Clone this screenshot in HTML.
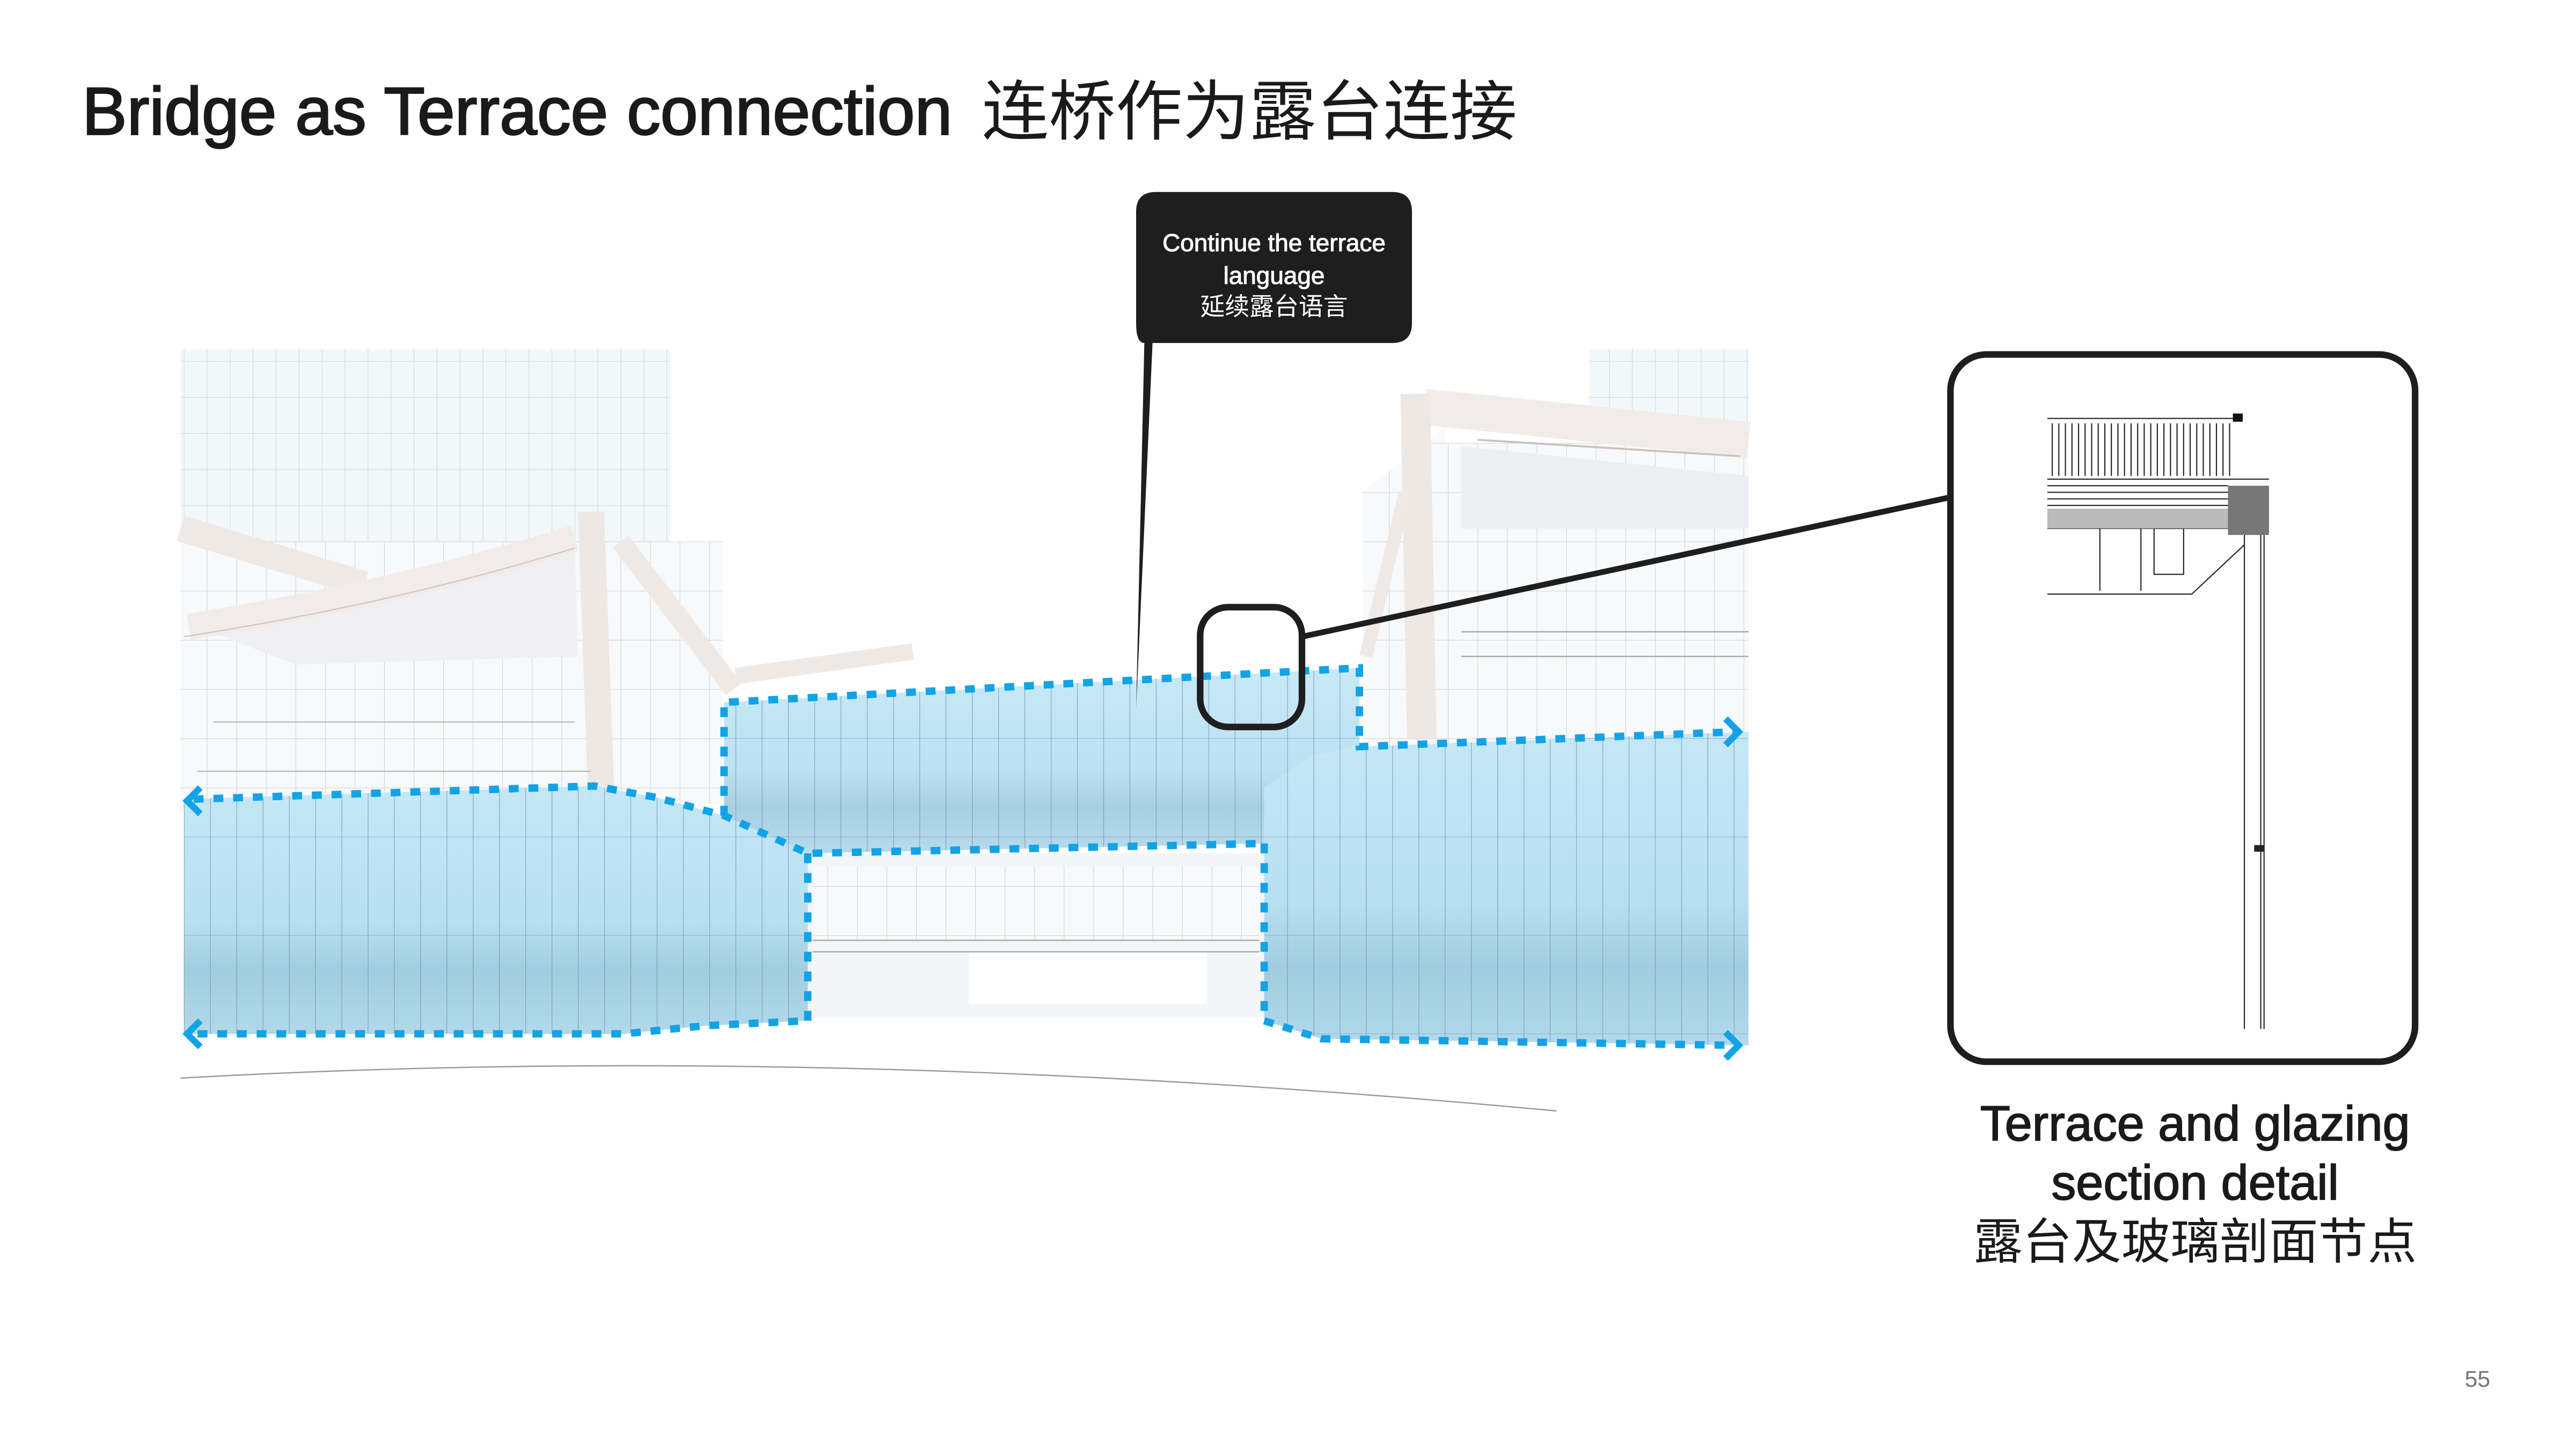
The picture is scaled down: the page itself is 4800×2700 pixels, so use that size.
<!DOCTYPE html>
<html><head><meta charset="utf-8"><style>
html,body{margin:0;padding:0;background:#fff;}
svg{display:block;}
</style></head><body>
<svg width="4800" height="2700" viewBox="0 0 1569 883" preserveAspectRatio="none" xmlns="http://www.w3.org/2000/svg">
<defs>
<pattern id="grid" width="14" height="22" patternUnits="userSpaceOnUse">
<rect width="14" height="22" fill="#f2f8f9"/>
<path d="M0 0V22M0 0H14" stroke="#c2d3d6" stroke-width="0.6"/>
</pattern>
<pattern id="grid2" width="18" height="30" patternUnits="userSpaceOnUse">
<rect width="18" height="30" fill="#f8f9fa"/>
<path d="M0 0V30M0 0H18" stroke="#c8cccf" stroke-width="0.6"/>
</pattern>
<pattern id="mull" width="16" height="60" patternUnits="userSpaceOnUse">
<path d="M0 0V60" stroke="#6b8fa3" stroke-width="0.8" opacity="0.7"/>
<path d="M0 30H16" stroke="#7fa3b6" stroke-width="0.4" opacity="0.6"/>
</pattern>
<linearGradient id="blue" x1="0" y1="0" x2="0" y2="1">
<stop offset="0" stop-color="#bfe5f5"/><stop offset="0.55" stop-color="#b0dcef"/><stop offset="0.75" stop-color="#98c6dd"/><stop offset="1" stop-color="#a9d5ea"/>
</linearGradient>
</defs>

<!-- Title -->
<text x="50" y="82" font-family="Liberation Sans, sans-serif" font-size="41" fill="#1a1a1a" textLength="530" lengthAdjust="spacingAndGlyphs" stroke="#1a1a1a" stroke-width="0.9">Bridge as Terrace connection</text>
<text x="598" y="82" font-family="'Liberation Sans','Noto Sans CJK SC',sans-serif" font-size="40" fill="#1a1a1a" textLength="326" lengthAdjust="spacingAndGlyphs">连桥作为露台连接</text>

<!-- Towers -->
<rect x="110" y="213" width="298" height="280" fill="url(#grid)"/>
<rect x="968" y="213" width="97" height="50" fill="url(#grid)"/>
<!-- Upper floors -->
<rect x="110" y="330" width="330" height="160" fill="url(#grid2)"/>
<rect x="880" y="270" width="185" height="185" fill="url(#grid2)"/>
<polygon points="830,300 880,260 880,455 830,455" fill="url(#grid2)"/>
<!-- Canopies left -->
<polygon points="115,380 350,328 352,400 180,405" fill="#f0f0f2"/>
<path d="M110 322 L222 356" stroke="#efe9e6" stroke-width="16" fill="none"/>
<path d="M115 382 Q240 362 350 328" stroke="#f1ecea" stroke-width="16" fill="none"/>
<path d="M112 388 Q240 368 350 334" stroke="#cfc9c7" stroke-width="0.8" fill="none"/>
<path d="M360 312 L366 480" stroke="#eee8e5" stroke-width="16" fill="none"/>
<path d="M378 330 L447 420" stroke="#efe9e6" stroke-width="12" fill="none"/>
<path d="M448 412 L556 397" stroke="#efe9e6" stroke-width="10" fill="none"/>
<path d="M130 440 H350 M120 470 H360" stroke="#bbb" stroke-width="0.8"/>
<!-- Canopies right -->
<polygon points="890,272 1065,290 1065,322 890,322" fill="#eceef1"/>
<path d="M868 248 L1065 268" stroke="#f1ecea" stroke-width="22" fill="none"/>
<path d="M862 240 L866 450" stroke="#eee8e5" stroke-width="18" fill="none"/>
<path d="M832 400 L856 300" stroke="#efe9e6" stroke-width="8" fill="none"/>
<path d="M900 268 L1060 278" stroke="#c8c2c0" stroke-width="1.2"/>
<path d="M890 385 H1065 M890 400 H1065" stroke="#aaa" stroke-width="0.8"/>

<!-- Underpass -->
<rect x="492" y="520" width="278" height="100" fill="#f4f5f6"/>
<rect x="495" y="528" width="272" height="45" fill="url(#grid2)"/>
<rect x="590" y="580" width="145" height="32" fill="#fff"/>
<path d="M495 573 H767 M495 580 H767" stroke="#aaa" stroke-width="0.8"/>

<!-- Blue glass -->
<g>
<polygon points="112,487 362,479 400,486 441,497 492,520 492,622 430,625 380,630 112,630" fill="url(#blue)" opacity="0.9"/>
<polygon points="112,487 362,479 400,486 441,497 492,520 492,622 430,625 380,630 112,630" fill="url(#mull)"/>
<polygon points="441,428 828,407 828,455 800,460 770,480 770,514 492,520 441,497" fill="url(#blue)" opacity="0.85"/>
<polygon points="441,428 828,407 828,455 800,460 770,480 770,514 492,520 441,497" fill="url(#mull)"/>
<polygon points="828,455 1065,446 1065,637 805,633 770,622 770,480 800,460" fill="url(#blue)" opacity="0.9"/>
<polygon points="828,455 1065,446 1065,637 805,633 770,622 770,480 800,460" fill="url(#mull)"/>
</g>
<!-- ground line -->
<path d="M110 657 Q500 635 948 677" stroke="#999" stroke-width="0.8" fill="none"/>

<!-- Dotted outlines -->
<g stroke="#12a3e6" stroke-width="4.5" fill="none" stroke-dasharray="6 6">
<path d="M118 487 L362 479 L400 486 L441 497 L492 520 L770 514"/>
<path d="M441 497 L441 428 L828 407 L828 455 L1056 446"/>
<path d="M492 520 L492 622 L430 625 L380 630 L118 630"/>
<path d="M770 514 L770 622 L805 633 L1056 637"/>
</g>
<g stroke="#12a3e6" stroke-width="4" fill="none">
<path d="M122 480 L114 488 L122 496"/>
<path d="M122 622 L114 630 L122 638"/>
<path d="M1051 438 L1059 446 L1051 454"/>
<path d="M1051 629 L1059 637 L1051 645"/>
</g>

<!-- Callout -->
<path d="M704 117 H848 Q860 117 860 129 V197 Q860 209 848 209 H702 L692 432 L697 209 Q692 209 692 197 V129 Q692 117 704 117 Z" fill="#1e1e1e"/>
<g font-family="'Liberation Sans','Noto Sans CJK SC',sans-serif" font-size="15" fill="#fff" text-anchor="middle">
<text x="776" y="153" stroke="#fff" stroke-width="0.35">Continue the terrace</text>
<text x="776" y="173" stroke="#fff" stroke-width="0.35">language</text>
<text x="776" y="192">延续露台语言</text>
</g>

<!-- Small highlight box and leader -->
<rect x="731" y="370" width="62" height="73" rx="17" fill="none" stroke="#1e1e1e" stroke-width="4"/>
<path d="M793 388 L1188 303" stroke="#1e1e1e" stroke-width="3.5"/>

<!-- Detail box -->
<rect x="1188" y="216" width="283" height="431" rx="22" fill="#fff" stroke="#1e1e1e" stroke-width="4"/>
<g stroke="#222" stroke-width="0.7" fill="none">
<path d="M1247 255 H1362 M1247 292 H1382"/>
<path d="M1250 258V290M1254 258V290M1258 258V290M1262 258V290M1266 258V290M1270 258V290M1274 258V290M1278 258V290M1282 258V290M1286 258V290M1290 258V290M1294 258V290M1298 258V290M1302 258V290M1306 258V290M1310 258V290M1314 258V290M1318 258V290M1322 258V290M1326 258V290M1330 258V290M1334 258V290M1338 258V290M1342 258V290M1346 258V290M1350 258V290M1354 258V290M1358 258V290"/>
<path d="M1247 296 H1357 M1247 300 H1357 M1247 304 H1357 M1247 308 H1357"/>
<path d="M1247 322 H1377 M1279 322 V360 M1304 322 V360"/>
<rect x="1312" y="322" width="18" height="28"/>
<path d="M1247 362 H1335 L1367 332"/>
<path d="M1367 326 V627 M1377 326 V627 M1379 326 V627"/>
</g>
<rect x="1247" y="310" width="110" height="12" fill="#bbb"/>
<rect x="1357" y="296" width="25" height="30" fill="#777"/>
<rect x="1360" y="252" width="6" height="5" fill="#111"/>
<rect x="1373" y="515" width="6" height="4" fill="#222"/>

<!-- Caption -->
<g font-family="'Liberation Sans','Noto Sans CJK SC',sans-serif" font-size="30" fill="#1a1a1a" text-anchor="middle">
<text x="1337" y="695" stroke="#1a1a1a" stroke-width="0.6">Terrace and glazing</text>
<text x="1337" y="731" stroke="#1a1a1a" stroke-width="0.6">section detail</text>
<text x="1337" y="767">露台及玻璃剖面节点</text>
</g>
<text x="1509" y="845" font-family="Liberation Sans, sans-serif" font-size="14" fill="#777" text-anchor="middle">55</text>
</svg>
</body></html>
